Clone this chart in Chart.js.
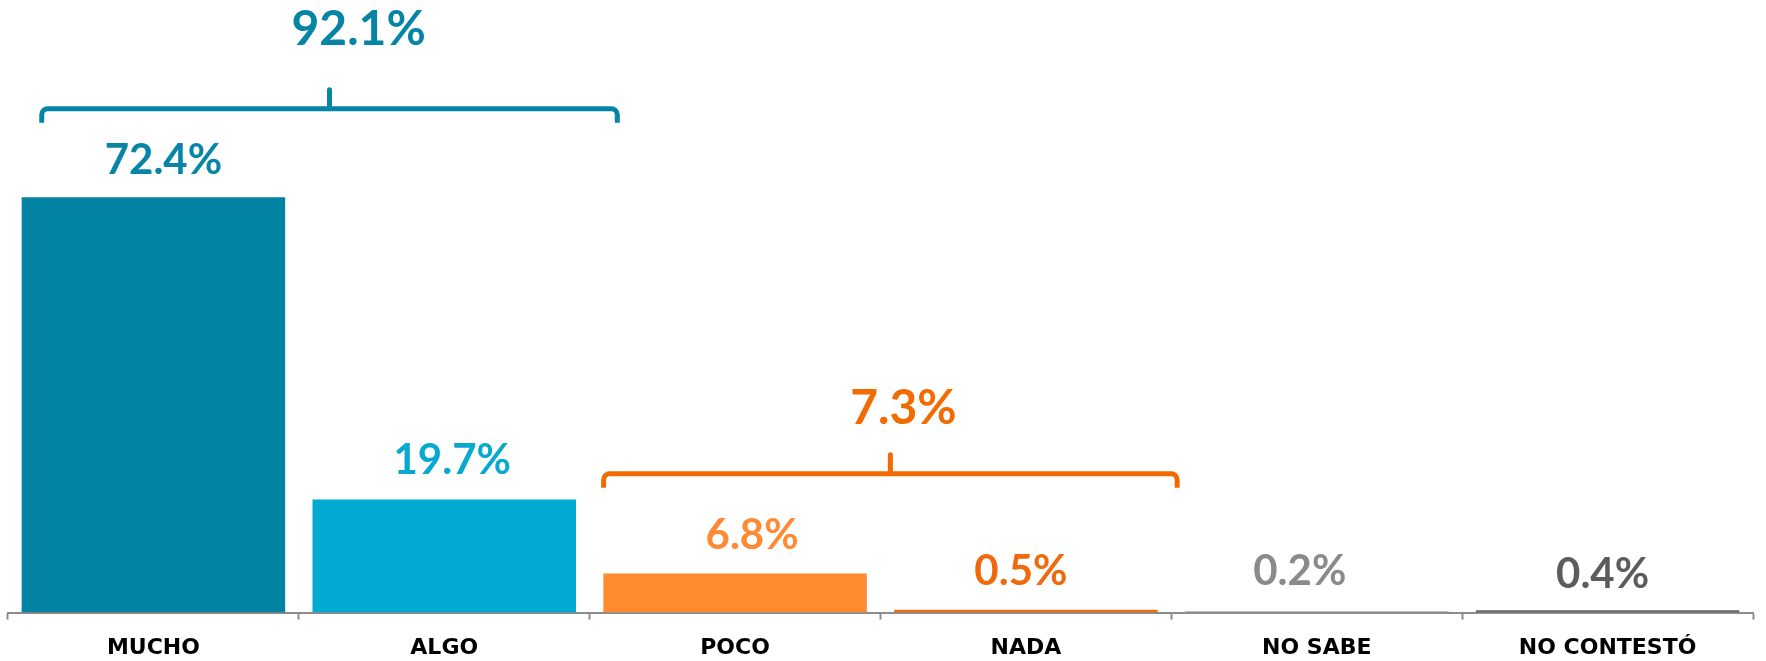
<!DOCTYPE html>
<html>
<head>
<meta charset="utf-8">
<script src="https://cdn.jsdelivr.net/npm/chart.js@4/dist/chart.umd.min.js"></script>
<style>
  html, body { margin: 0; padding: 0; background: #ffffff; }
  #wrap { width: 1766px; height: 661px; position: relative; }
</style>
</head>
<body>
<div id="wrap"><canvas id="c" width="1766" height="661"></canvas></div>
<script>
// ---- data ----
const categories = ['MUCHO', 'ALGO', 'POCO', 'NADA', 'NO SABE', 'NO CONTESTÓ'];
const values = [72.4, 19.7, 6.8, 0.5, 0.2, 0.4];
const barColors = ['#0383A4', '#02AAD2', '#FF8A2F', '#F26C10', '#7F7F7F', '#666666'];
const labelColors = ['#0785A6', '#08A9D0', '#FF8A33', '#F06A0D', '#8A8A8A', '#5C5C5C'];
const groupTotals = [92.1, 7.3];
const groupStart = [0, 2];
const groupEnd = [1, 3];

const valueLabelPlugin = {
  id: 'valueLabels',
  afterDatasetsDraw(chart, args, opts) {
    const ctx = chart.ctx;
    const meta = chart.getDatasetMeta(0);
    ctx.save();
    ctx.font = opts.font;
    ctx.textAlign = 'center';
    ctx.textBaseline = 'middle';
    meta.data.forEach((bar, i) => {
      ctx.fillStyle = labelColors[i];
      ctx.fillText(values[i].toFixed(1) + '%', bar.x + opts.dx[i], bar.y - opts.dy[i]);
    });
    ctx.restore();
  }
};

const bracketPlugin = {
  id: 'brackets',
  afterDatasetsDraw(chart, args, opts) {
    const ctx = chart.ctx;
    const xs = chart.scales.x, ys = chart.scales.y;
    ctx.save();
    opts.items.forEach((it, k) => {
      const x1 = xs.getPixelForValue(groupStart[k] + it.padLeft);
      const x2 = xs.getPixelForValue(groupEnd[k] + it.padRight);
      const xm = (x1 + x2) / 2;
      const y = ys.getPixelForValue(it.lineY);
      const r = 6;
      ctx.strokeStyle = it.color;
      ctx.lineWidth = opts.lineWidth;
      ctx.lineCap = 'butt';
      ctx.lineJoin = 'round';
      ctx.beginPath();
      ctx.moveTo(x1, y + opts.endLen);
      ctx.arcTo(x1, y, x1 + r, y, r);
      ctx.lineTo(x2 - r, y);
      ctx.arcTo(x2, y, x2, y + r, r);
      ctx.lineTo(x2, y + opts.endLen);
      ctx.stroke();
      ctx.beginPath();
      ctx.lineCap = 'round';
      ctx.moveTo(xm, y);
      ctx.lineTo(xm, y - opts.midLen);
      ctx.stroke();
      ctx.fillStyle = it.color;
      ctx.font = it.font;
      ctx.textAlign = 'center';
      ctx.textBaseline = 'middle';
      ctx.fillText(groupTotals[k].toFixed(1) + '%', xm + it.labelShift * (xs.getPixelForValue(1) - xs.getPixelForValue(0)), ys.getPixelForValue(it.labelY));
    });
    ctx.restore();
  }
};

new Chart(document.getElementById('c'), {
  type: 'bar',
  data: {
    labels: categories,
    datasets: [{
      data: values,
      backgroundColor: barColors,
      borderWidth: 0,
      categoryPercentage: 1.0,
      barPercentage: 0.906
    }]
  },
  options: {
    responsive: false,
    animation: false,
    devicePixelRatio: 1,
    layout: { padding: { left: 8, right: 13, top: 0, bottom: -15 } },
    plugins: {
      legend: { display: false },
      tooltip: { enabled: false },
      valueLabels: {
        font: 'bold 42px Lato',
        dx: [10, 8, 17, -5, -17, -5],
        dy: [36.5, 39.5, 38.5, 38, 40, 35.5]
      },
      brackets: {
        lineWidth: 5,
        endLen: 14,
        midLen: 19,
        items: [
          { color: '#0585A6', padLeft: -0.384, padRight: 0.595, lineY: 87.85, labelY: 101.7, labelShift: 0.1, font: 'bold 48px Lato' },
          { color: '#F26B00', padLeft: -0.452, padRight: 0.52, lineY: 24.2, labelY: 35.5, labelShift: 0.045, font: 'bold 48px Lato' }
        ]
      }
    },
    scales: {
      x: {
        offset: true,
        grid: {
          display: true,
          offset: true,
          drawOnChartArea: false,
          drawTicks: true,
          tickLength: 7,
          tickWidth: 2,
          tickColor: '#8C8C8C'
        },
        border: { display: true, color: '#8C8C8C', width: 2 },
        ticks: {
          color: '#000000',
          padding: 15,
          font: { family: 'DejaVu Sans', weight: 'bold', size: 22 },
          maxRotation: 0,
          autoSkip: false
        }
      },
      y: {
        display: false,
        min: 0,
        max: 106.8
      }
    }
  },
  plugins: [valueLabelPlugin, bracketPlugin]
});
</script>
</body>
</html>
